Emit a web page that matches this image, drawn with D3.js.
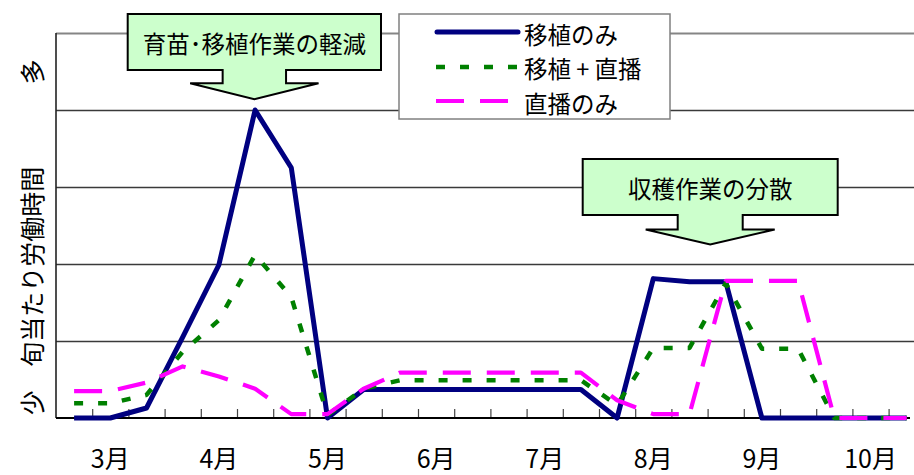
<!DOCTYPE html>
<html><head><meta charset="utf-8">
<script src="https://cdn.jsdelivr.net/npm/d3@7/dist/d3.min.js"></script>
<style>
html,body{margin:0;padding:0;background:#fff;overflow:hidden}
svg{display:block}
text{font-family:"Noto Sans CJK JP","Noto Sans",sans-serif;fill:#000}
</style></head><body>
<svg id="c" width="914" height="475"></svg>
<script>
// ---- data ----
const dekads = ["3月上旬","3月中旬","3月下旬","4月上旬","4月中旬","4月下旬","5月上旬","5月中旬","5月下旬",
  "6月上旬","6月中旬","6月下旬","7月上旬","7月中旬","7月下旬","8月上旬","8月中旬","8月下旬",
  "9月上旬","9月中旬","9月下旬","10月上旬","10月中旬","10月下旬"];
const months = ["3月","4月","5月","6月","7月","8月","9月","10月"];
const transplantOnly = [0,0,0.13,1.05,1.99,4.0,3.25,0,0.37,0.37,0.37,0.37,0.37,0.37,0.37,0,1.81,1.77,1.77,0,0,0,0,0];
const transplantPlusDirect = [0.19,0.19,0.3,0.86,1.27,2.12,1.57,0.04,0.38,0.49,0.49,0.49,0.49,0.49,0.49,0.17,0.91,0.91,1.75,0.9,0.9,0,0,0];
const directOnly = [0.35,0.35,0.46,0.67,0.54,0.38,0.05,0.05,0.38,0.59,0.59,0.59,0.59,0.59,0.59,0.23,0.05,0.05,1.78,1.78,1.78,0,0,0];
const seriesNames = ["移植のみ","移植 + 直播","直播のみ"];
const yTicks = [1,2,3,4,5];
const yLabelTop = "多", yLabelMid = "旬当たり労働時間", yLabelBottom = "少";
const note1 = "育苗･移植作業の軽減";
const note2 = "収穫作業の分散";

// ---- layout ----
const svg = d3.select("#c");
const plotLeft = 56, bandW = 36.2, plotTop = 33, plotBottom = 418;
const x = d3.scaleBand().domain(dekads).range([plotLeft, plotLeft + bandW * dekads.length]).padding(0);
const xIdx = d3.scaleLinear().domain([0, dekads.length]).range([plotLeft, plotLeft + bandW * dekads.length]);
const y = d3.scaleLinear().domain([0, 5]).range([plotBottom, plotTop]);
const plotW = bandW * dekads.length;

// gridlines
const grid = svg.append("g").attr("transform", `translate(${plotLeft},0)`)
  .call(d3.axisLeft(y).tickValues(yTicks).tickSize(-plotW).tickFormat(""));
grid.select(".domain").remove();
grid.selectAll(".tick line")
  .attr("stroke", d => d === 5 ? "#858585" : "#3a3a3a")
  .attr("stroke-width", d => d === 5 ? 2 : 1.3);

// left axis
svg.append("line").attr("x1", plotLeft).attr("x2", plotLeft).attr("y1", plotTop).attr("y2", plotBottom)
  .attr("stroke", "#222").attr("stroke-width", 1.6);

// bottom minor ticks
const bt = svg.append("g").attr("transform", `translate(0,${plotBottom})`)
  .call(d3.axisBottom(xIdx).tickValues(d3.range(1, dekads.length)).tickSize(-9).tickFormat(""));
bt.select(".domain").remove();
bt.selectAll(".tick line").attr("stroke", "#444").attr("stroke-width", 1.2);

// baseline
svg.append("line").attr("x1", plotLeft).attr("x2", 910).attr("y1", plotBottom).attr("y2", plotBottom)
  .attr("stroke", "#000").attr("stroke-width", 2);

// month labels
const mAx = svg.append("g").attr("transform", `translate(0,${plotBottom})`)
  .call(d3.axisBottom(x).tickValues(dekads.filter((d, i) => i % 3 === 1))
    .tickFormat((d, i) => months[i]).tickSize(0));
mAx.select(".domain").remove();
mAx.attr("font-family", null).attr("font-size", null);
mAx.selectAll("text").attr("y", 41.5).attr("dy", "0.35em")
  .style("font-size", "25px").attr("fill", "#000");

// series
const line = d3.line().x((d, i) => x(dekads[i]) + x.bandwidth() / 2).y(d => y(d));
const series = [
  {v: transplantOnly, c: "#000080", w: 5, dash: null},
  {v: transplantPlusDirect, c: "#008000", w: 4.5, dash: "9 15"},
  {v: directOnly, c: "#ff00ff", w: 4.2, dash: "28 16"}
];
series.forEach(s => {
  svg.append("path").datum(s.v).attr("d", line).attr("fill", "none")
    .attr("stroke", s.c).attr("stroke-width", s.w)
    .attr("stroke-linejoin", "round")
    .attr("stroke-dasharray", s.dash);
});

// annotation callouts
function callout(bx0, by0, bx1, by1, stemHalf, headHalf, headY, tipY, label) {
  const cx = (bx0 + bx1) / 2;
  const p = `M${bx0},${by0}H${bx1}V${by1}H${cx + stemHalf}V${headY}H${cx + headHalf}L${cx},${tipY}L${cx - headHalf},${headY}H${cx - stemHalf}V${by1}H${bx0}Z`;
  svg.append("path").attr("d", p).attr("fill", "#ccffcc").attr("stroke", "#000").attr("stroke-width", 2);
  svg.append("text").attr("x", cx).attr("y", (by0 + by1) / 2 + 0.5).attr("text-anchor", "middle")
    .attr("dominant-baseline", "central").style("font-size", "23.5px").text(label);
}
callout(127.7, 14, 381, 70, 31.7, 64.2, 83.3, 99.3, note1);
callout(582.7, 159, 837.7, 215, 32.5, 64.5, 229.5, 244.5, note2);

// legend
const lg = svg.append("g");
lg.append("rect").attr("x", 399).attr("y", 14).attr("width", 271).attr("height", 105)
  .attr("fill", "#fff").attr("stroke", "#808080").attr("stroke-width", 1.5);
const rowsY = [32, 67, 101], textY = [34, 67.5, 102.5], symEnd = [518, 517, 509];
series.forEach((s, i) => {
  lg.append("line").attr("x1", s.dash ? 436 : 437).attr("x2", symEnd[i]).attr("y1", rowsY[i]).attr("y2", rowsY[i])
    .attr("stroke", s.c).attr("stroke-width", s.w)
    .attr("stroke-linecap", s.dash ? "butt" : "round")
    .attr("stroke-dasharray", s.dash);
  lg.append("text").attr("x", 524).attr("y", textY[i]).attr("dominant-baseline", "central")
    .style("font-size", "23.5px").text(seriesNames[i]);
});

// y-axis label (rotated)
[[yLabelBottom, 402.7], [yLabelMid, 266.7], [yLabelTop, 71.7]].forEach(([t, cy]) => {
  svg.append("text").attr("transform", `translate(30.7,${cy}) rotate(-90)`)
    .attr("text-anchor", "middle").attr("dominant-baseline", "central")
    .style("font-size", "25px").text(t);
});
</script>
</body></html>
